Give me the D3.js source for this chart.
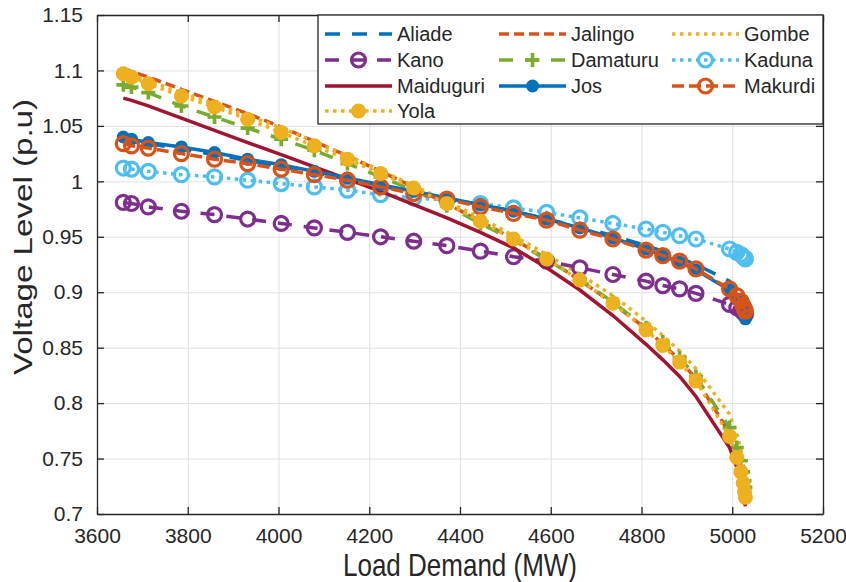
<!DOCTYPE html>
<html>
<head>
<meta charset="utf-8">
<script src="https://cdn.jsdelivr.net/npm/d3@7"></script>
<style>
  body { margin: 0; background: #fff; }
  svg { display: block; }
  text { font-family: "Liberation Sans", Arial, Helvetica, sans-serif; fill: #262626; }
</style>
</head>
<body>
<svg id="chart" width="846" height="582"></svg>
<script>
// Load steps (MW) shared by every bus curve
const loadDemand = [3658, 3676, 3713, 3786, 3859, 3932, 4006, 4079, 4152, 4225, 4298, 4371, 4445,
  4518, 4591, 4664, 4737, 4810, 4847, 4884, 4920, 4994, 5010, 5019, 5024, 5027, 5029];

// Bus voltages (p.u) at each load step
const aliade    = [1.038, 1.036, 1.034, 1.029, 1.024, 1.019, 1.013, 1.008, 1.002, 0.996, 0.990, 0.984, 0.979,
  0.973, 0.966, 0.959, 0.951, 0.942, 0.937, 0.931, 0.925, 0.910, 0.902, 0.896, 0.891, 0.887, 0.884];
const jalingo   = [1.102, 1.099, 1.094, 1.083, 1.072, 1.061, 1.049, 1.036, 1.023, 1.009, 0.995, 0.980, 0.964,
  0.948, 0.930, 0.911, 0.890, 0.867, 0.853, 0.839, 0.822, 0.773, 0.754, 0.741, 0.731, 0.723, 0.717];
const gombe     = [1.099, 1.096, 1.091, 1.080, 1.070, 1.059, 1.048, 1.036, 1.023, 1.010, 0.996, 0.982, 0.967,
  0.951, 0.934, 0.916, 0.897, 0.874, 0.861, 0.847, 0.831, 0.790, 0.772, 0.758, 0.746, 0.736, 0.728];
const kano      = [0.981, 0.980, 0.977, 0.973, 0.970, 0.966, 0.962, 0.958, 0.954, 0.950, 0.946, 0.942, 0.937,
  0.932, 0.928, 0.922, 0.916, 0.910, 0.906, 0.903, 0.899, 0.889, 0.886, 0.884, 0.882, 0.881, 0.880];
const damaturu  = [1.087, 1.085, 1.080, 1.068, 1.058, 1.048, 1.038, 1.028, 1.016, 1.004, 0.992, 0.978, 0.962,
  0.947, 0.929, 0.912, 0.891, 0.868, 0.855, 0.841, 0.824, 0.778, 0.760, 0.748, 0.738, 0.730, 0.724];
const kaduna    = [1.012, 1.011, 1.009, 1.006, 1.004, 1.001, 0.998, 0.995, 0.992, 0.988, 0.985, 0.983, 0.980,
  0.976, 0.972, 0.967, 0.962, 0.957, 0.954, 0.951, 0.948, 0.939, 0.936, 0.934, 0.932, 0.931, 0.930];
const maiduguri = [1.075, 1.073, 1.068, 1.057, 1.046, 1.035, 1.024, 1.013, 1.002, 0.991, 0.979, 0.967, 0.954,
  0.940, 0.922, 0.902, 0.879, 0.853, 0.839, 0.824, 0.806, 0.760, 0.742, 0.728, 0.718, 0.711, 0.707];
const jos       = [1.040, 1.038, 1.035, 1.031, 1.026, 1.020, 1.015, 1.009, 1.003, 0.997, 0.991, 0.985, 0.979,
  0.973, 0.966, 0.958, 0.949, 0.939, 0.933, 0.927, 0.920, 0.902, 0.894, 0.888, 0.883, 0.879, 0.876];
const makurdi   = [1.034, 1.032, 1.030, 1.025, 1.020, 1.016, 1.011, 1.006, 1.001, 0.995, 0.989, 0.984, 0.977,
  0.971, 0.965, 0.956, 0.948, 0.938, 0.933, 0.928, 0.921, 0.903, 0.897, 0.892, 0.888, 0.885, 0.883];
const yola      = [1.097, 1.094, 1.088, 1.077, 1.067, 1.056, 1.044, 1.032, 1.020, 1.007, 0.994, 0.980, 0.964,
  0.948, 0.930, 0.911, 0.890, 0.866, 0.852, 0.837, 0.820, 0.770, 0.751, 0.738, 0.728, 0.720, 0.715];

const busNames = ["Aliade", "Jalingo", "Gombe", "Kano", "Damaturu", "Kaduna", "Maiduguri", "Jos", "Makurdi", "Yola"];
const busValues = [aliade, jalingo, gombe, kano, damaturu, kaduna, maiduguri, jos, makurdi, yola];

const xTicks = [3600, 3800, 4000, 4200, 4400, 4600, 4800, 5000, 5200];
const yTicks = [0.7, 0.75, 0.8, 0.85, 0.9, 0.95, 1, 1.05, 1.1, 1.15];
const yTickLabels = ["0.7", "0.75", "0.8", "0.85", "0.9", "0.95", "1", "1.05", "1.1", "1.15"];

// Drawing style per bus: colour, dash pattern, marker type
const styles = {
  Aliade:    { color: "#0072BD", dash: "15,12", marker: null },
  Jalingo:   { color: "#D95319", dash: "10,5",  marker: null },
  Gombe:     { color: "#EDB120", dash: "3.5,4.5", marker: null },
  Kano:      { color: "#7E2F8E", dash: "14,12", marker: "openCircle" },
  Damaturu:  { color: "#77AC30", dash: "14,12", marker: "plus" },
  Kaduna:    { color: "#4DBEEE", dash: "3.5,4.5", marker: "openCircle" },
  Maiduguri: { color: "#A2142F", dash: null,    marker: null },
  Jos:       { color: "#0072BD", dash: null,    marker: "dot" },
  Makurdi:   { color: "#D95319", dash: "12,5",  marker: "openCircle" },
  Yola:      { color: "#EDB120", dash: "3.5,4.5", marker: "bigDot" }
};

const svg = d3.select("#chart");
const plotLeft = 97, plotRight = 823, plotTop = 15, plotBottom = 514;

const x = d3.scaleLinear().domain([3600, 5200]).range([plotLeft, plotRight]);
const y = d3.scaleLinear().domain([0.7, 1.15]).range([plotBottom, plotTop]);

// Grid
const grid = svg.append("g").attr("class", "grid");
grid.append("g").attr("transform", `translate(0,${plotBottom})`)
  .call(d3.axisBottom(x).tickValues(xTicks).tickSize(-(plotBottom - plotTop)).tickFormat(""))
  .call(g => g.select(".domain").remove())
  .call(g => g.selectAll("line").attr("stroke", "#e0e0e0").attr("stroke-width", 1));
grid.append("g").attr("transform", `translate(${plotLeft},0)`)
  .call(d3.axisLeft(y).tickValues(yTicks).tickSize(-(plotRight - plotLeft)).tickFormat(""))
  .call(g => g.select(".domain").remove())
  .call(g => g.selectAll("line").attr("stroke", "#e0e0e0").attr("stroke-width", 1));

// Series
const lineGen = d3.line().x(d => x(d[0])).y(d => y(d[1]));
const plot = svg.append("g");

function drawMarker(g, type, color, cx, cy) {
  if (type === "openCircle") {
    g.append("circle").attr("cx", cx).attr("cy", cy).attr("r", 7)
      .attr("fill", "none").attr("stroke", color).attr("stroke-width", 3.2);
  } else if (type === "dot") {
    g.append("circle").attr("cx", cx).attr("cy", cy).attr("r", 6.5).attr("fill", color);
  } else if (type === "bigDot") {
    g.append("circle").attr("cx", cx).attr("cy", cy).attr("r", 7.5).attr("fill", color);
  } else if (type === "plus") {
    g.append("path").attr("d", `M${cx - 7},${cy}H${cx + 7}M${cx},${cy - 7}V${cy + 7}`)
      .attr("stroke", color).attr("stroke-width", 3.6).attr("fill", "none");
  }
}

busNames.forEach((name, i) => {
  const st = styles[name];
  const pts = loadDemand.map((l, j) => [l, busValues[i][j]]);
  const g = plot.append("g");
  g.append("path").datum(pts).attr("d", lineGen)
    .attr("fill", "none").attr("stroke", st.color).attr("stroke-width", 3.5)
    .attr("stroke-dasharray", st.dash);
  if (st.marker) {
    pts.forEach(p => drawMarker(g, st.marker, st.color, x(p[0]), y(p[1])));
  }
});

// Axes with inward ticks on all four sides
const axisColor = "#262626";
function styleAxis(g) {
  g.select(".domain").attr("stroke", axisColor).attr("stroke-width", 1.3);
  g.selectAll(".tick line").attr("stroke", axisColor).attr("stroke-width", 1.3);
  g.selectAll("text").attr("font-size", 21).attr("fill", axisColor);
}
svg.append("g").attr("transform", `translate(0,${plotBottom})`)
  .call(d3.axisBottom(x).tickValues(xTicks).tickSizeInner(-7).tickSizeOuter(0).tickPadding(14).tickFormat(d3.format("d")))
  .call(styleAxis);
svg.append("g").attr("transform", `translate(${plotLeft},0)`)
  .call(d3.axisLeft(y).tickValues(yTicks).tickSizeInner(-7).tickSizeOuter(0).tickPadding(14)
    .tickFormat((d, i) => yTickLabels[i]))
  .call(styleAxis);
svg.append("g").attr("transform", `translate(0,${plotTop})`)
  .call(d3.axisTop(x).tickValues(xTicks).tickSizeInner(-7).tickSizeOuter(0).tickFormat(""))
  .call(styleAxis);
svg.append("g").attr("transform", `translate(${plotRight},0)`)
  .call(d3.axisRight(y).tickValues(yTicks).tickSizeInner(-7).tickSizeOuter(0).tickFormat(""))
  .call(styleAxis);

// Axis labels (tall lettering, stretched along the page's vertical)
svg.append("g").attr("transform", `translate(${(plotLeft + plotRight) / 2},576) scale(1,1.22)`)
  .append("text").attr("text-anchor", "middle").attr("font-size", 26).attr("fill", "#404040")
  .text("Load Demand (MW)");
svg.append("g").attr("transform", `translate(32,237) scale(1,1.25) rotate(-90)`)
  .append("text").attr("text-anchor", "middle").attr("font-size", 26.5).attr("fill", "#404040")
  .text("Voltage Level (p.u)");

// Legend, three columns filled row by row
const legend = svg.append("g");
legend.append("rect").attr("x", 318).attr("y", plotTop).attr("width", plotRight - 318).attr("height", 109)
  .attr("fill", "#fff").attr("stroke", axisColor).attr("stroke-width", 1.3);
const colX = [325, 499, 672];
const rowY = [34, 60, 86, 111];
busNames.forEach((name, i) => {
  const st = styles[name];
  const cx0 = colX[i % 3], cy = rowY[Math.floor(i / 3)];
  const g = legend.append("g");
  g.append("line").attr("x1", cx0).attr("x2", cx0 + 67).attr("y1", cy).attr("y2", cy)
    .attr("stroke", st.color).attr("stroke-width", 3.5).attr("stroke-dasharray", st.dash);
  if (st.marker) drawMarker(g, st.marker, st.color, cx0 + 33.5, cy);
  g.append("text").attr("x", cx0 + 72).attr("y", cy).attr("dy", "0.36em")
    .attr("font-size", 20).text(name);
});
</script>
</body>
</html>
